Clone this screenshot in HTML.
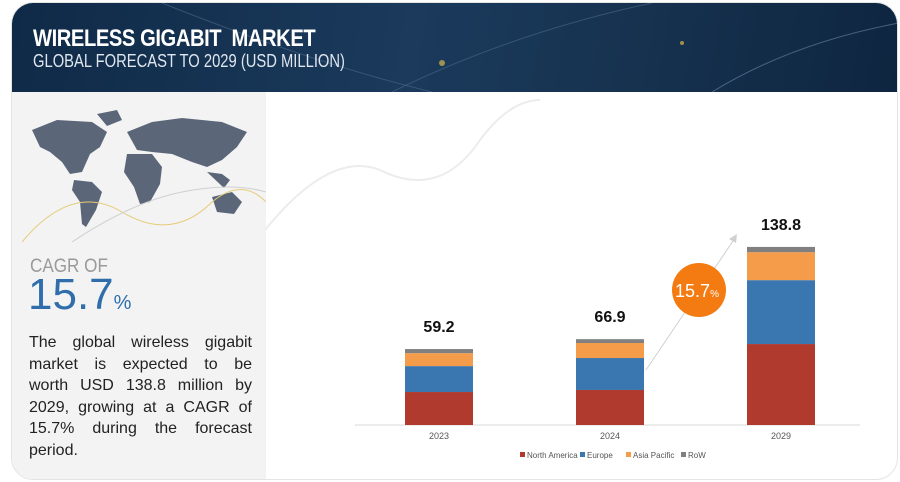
<!DOCTYPE html>
<html><head><meta charset="utf-8">
<style>
*{margin:0;padding:0;box-sizing:border-box}
body{width:900px;height:482px;background:#fff;font-family:"Liberation Sans",sans-serif;position:relative;overflow:hidden}
#frame{position:absolute;left:11px;top:2px;width:887px;height:478px;border-radius:22px;border:1px solid #e4e4e4;overflow:hidden;background:#fff}
#header{position:absolute;left:0;top:0;width:887px;height:89px;background:linear-gradient(100deg,#0f2a47 0%,#1b3a5c 45%,#16324f 70%,#0e2540 100%)}
#title{position:absolute;left:21px;top:22px;color:#fff;font-size:24px;font-weight:bold;letter-spacing:-0.5px;transform:scaleX(0.84);transform-origin:left}
#subtitle{position:absolute;left:21px;top:48px;color:#dfe6ee;font-size:18px;transform:scaleX(0.82);transform-origin:left}
#left{position:absolute;left:0;top:89px;width:254px;height:389px;background:#f3f3f3}
#cagr-of{position:absolute;left:18px;top:164px;font-size:19px;color:#9a9a9a;transform:scaleX(0.9);transform-origin:left}
#cagr{position:absolute;left:16px;top:178px;font-size:44px;color:#2f6eab}
#cagr span{font-size:20px}
#desc{position:absolute;left:17px;top:240px;width:223px;font-size:16px;line-height:21.6px;color:#222}
#desc span{display:block;text-align:justify;text-align-last:justify;white-space:nowrap;}
#desc span.last{text-align-last:left}
</style></head><body>
<div id="frame">
 <div id="header">
  <svg width="887" height="89" style="position:absolute;left:0;top:0">
   <path d="M150 0 Q300 60 420 89" stroke="#4d6a8a" stroke-width="1" fill="none" opacity=".6"/>
   <path d="M380 89 Q500 30 640 0" stroke="#4d6a8a" stroke-width="1" fill="none" opacity=".6"/>
   <path d="M700 89 Q780 40 887 20" stroke="#6a88a8" stroke-width="1" fill="none" opacity=".6"/>
   <circle cx="430" cy="60" r="3" fill="#d8b84a" opacity=".7"/>
   <circle cx="670" cy="40" r="2" fill="#d8b84a" opacity=".7"/>
  </svg>
  <div id="title">WIRELESS GIGABIT&nbsp; MARKET</div>
  <div id="subtitle">GLOBAL FORECAST TO 2029 (USD MILLION)</div>
 </div>
 <div id="left">
  <svg width="254" height="160" style="position:absolute;left:0;top:0">
   <g fill="#5b6778">
    <path d="M20 38 L45 28 L80 30 L95 40 L88 55 L78 62 L70 80 L58 82 L50 70 L38 60 L28 55 Z"/>
    <path d="M85 22 L105 18 L110 28 L95 34 Z"/>
    <path d="M62 88 L80 90 L90 100 L84 118 L74 135 L70 132 L68 110 L60 98 Z"/>
    <path d="M115 40 L140 30 L170 26 L210 30 L235 40 L225 55 L210 68 L195 75 L180 70 L160 62 L140 60 L125 58 Z"/>
    <path d="M115 62 L140 62 L150 75 L148 92 L138 110 L128 112 L122 95 L112 80 Z"/>
    <path d="M195 80 L210 82 L218 88 L212 96 Z"/>
    <path d="M200 105 L220 100 L230 110 L222 122 L205 120 Z"/>
   </g>
   <path d="M10 150 Q60 90 110 120 Q160 150 200 110 Q230 85 254 110" stroke="#e6cc7a" fill="none" stroke-width="1"/>
   <path d="M60 150 Q120 110 170 100 Q220 90 254 100" stroke="#cfcfcf" fill="none" stroke-width="1"/>
  </svg>
  <div id="cagr-of">CAGR OF</div>
  <div id="cagr">15.7<span>%</span></div>
  <div id="desc"><span>The global wireless gigabit</span><span>market is expected to be</span><span>worth USD 138.8 million by</span><span>2029, growing at a CAGR of</span><span>15.7% during the forecast</span><span class="last">period.</span></div>
 </div>
</div>
<svg id="chart" width="900" height="482" style="position:absolute;left:0;top:0">
 <path d="M265 230 Q330 150 380 170 Q440 200 480 140 Q510 100 540 100" stroke="#ececec" fill="none" stroke-width="2"/>
 <line x1="355" y1="425" x2="860" y2="425" stroke="#d9d9d9" stroke-width="1"/>
 <g id="bars"></g>
 <line x1="646" y1="370" x2="735" y2="238" stroke="#d0d0d0" stroke-width="1"/>
 <path d="M737 234 L729 239 L736 243 Z" fill="#d0d0d0"/>
 <circle cx="699" cy="290" r="27" fill="#f47b12"/>
 <text x="697" y="297" text-anchor="middle" fill="#fff" font-size="18" font-family="Liberation Sans">15.7<tspan font-size="10">%</tspan></text>
 <g id="legend"></g>
</svg>
<script>
const categories=["2023","2024","2029"];
const northAmerica=[25.7,27.3,63.1];
const europe=[20.2,24.9,49.8];
const asiaPacific=[10.1,11.7,21.8];
const row=[3.2,3.0,4.1];
const totals=["59.2","66.9","138.8"];
const seriesNames=["North America","Europe","Asia Pacific","RoW"];
const colors=["#b03a2e","#3a76b0","#f59c4a","#808080"];
const series=[northAmerica,europe,asiaPacific,row];
const NS="http://www.w3.org/2000/svg";
const baseY=425, scale=1.283, barW=68;
const xs={"2023":405,"2024":576,"2029":747};
function x(c){return xs[c];}
function y(v){return baseY-v*scale;}
const g=document.getElementById('bars');
categories.forEach((c,i)=>{
 let acc=0;
 series.forEach((s,k)=>{
  const r=document.createElementNS(NS,'rect');
  r.setAttribute('x',x(c));r.setAttribute('width',barW);
  r.setAttribute('y',y(acc+s[i]));r.setAttribute('height',s[i]*scale);
  r.setAttribute('fill',colors[k]);
  
  
  g.appendChild(r);acc+=s[i];
 });
 const t=document.createElementNS(NS,'text');
 t.setAttribute('x',x(c)+barW/2);t.setAttribute('y',y(acc)-17);
 t.setAttribute('text-anchor','middle');t.setAttribute('font-size','16');t.setAttribute('font-weight','bold');
 t.setAttribute('fill','#111');t.setAttribute('font-family','Liberation Sans');
 t.textContent=totals[i];
 
 
 g.appendChild(t);
 const l=document.createElementNS(NS,'text');
 l.setAttribute('x',x(c)+barW/2);l.setAttribute('y',439);
 l.setAttribute('text-anchor','middle');l.setAttribute('font-size','9');l.setAttribute('fill','#555');
 l.setAttribute('font-family','Liberation Sans');
 l.textContent=c;
 
 
 g.appendChild(l);
});
const lg=document.getElementById('legend');
const lx=[520,580,626,681];
seriesNames.forEach((n,k)=>{
 const r=document.createElementNS(NS,'rect');
 r.setAttribute('x',lx[k]);r.setAttribute('y',452);r.setAttribute('width',5);r.setAttribute('height',5);r.setAttribute('fill',colors[k]);
 
 
 lg.appendChild(r);
 const t=document.createElementNS(NS,'text');
 t.setAttribute('x',lx[k]+7);t.setAttribute('y',458);t.setAttribute('font-size','8');t.setAttribute('fill','#555');
 t.setAttribute('font-family','Liberation Sans');
 t.textContent=n;
 
 
 lg.appendChild(t);
});
</script>
</body></html>
